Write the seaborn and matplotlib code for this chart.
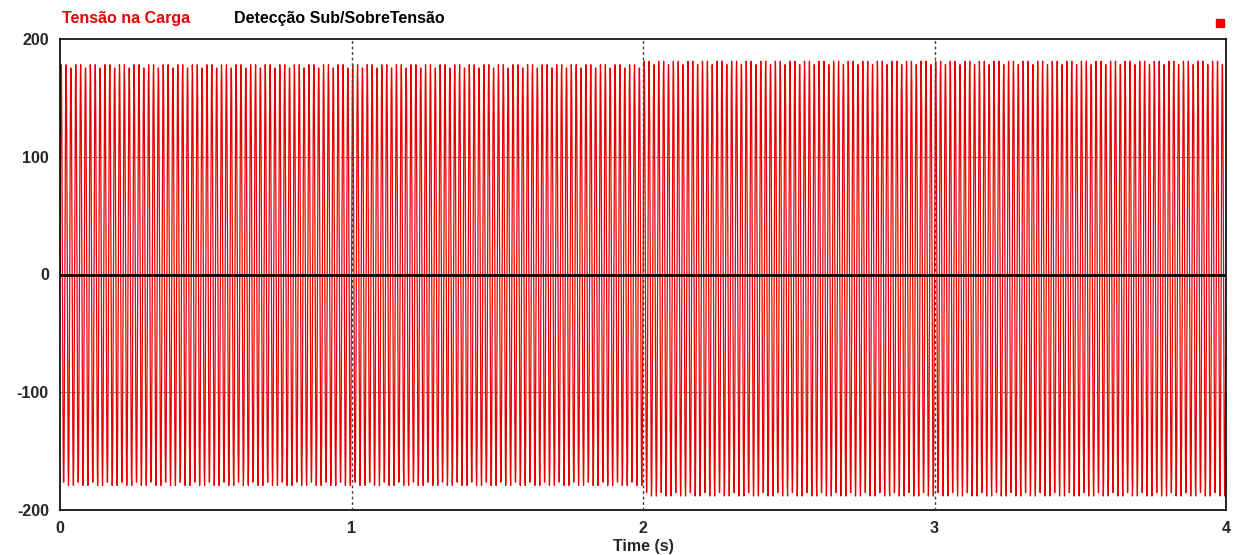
import numpy as np
import pandas as pd
import matplotlib
matplotlib.use("Agg")
import matplotlib.pyplot as plt
import seaborn as sns

# --- data ---
freq_hz = 60.0                      # line frequency
seg_start = [0.0, 2.0]              # segment start times (s)
seg_end = [2.0, 4.0]                # segment end times (s)
seg_amp = [179.0, 185.0]            # peak amplitude per segment (V)
seg_offset = [-0.5, -3.5]           # DC offset per segment (V)
detect_level = [0.0, 0.0]           # detection signal (stays at 0)
samples_per_s = 1000
x_ticks = [0, 1, 2, 3, 4]
y_ticks = [-200, -100, 0, 100, 200]

# build waveform from the segment table
t_parts, v_parts = [], []
for a, b, amp, off in zip(seg_start, seg_end, seg_amp, seg_offset):
    t = np.arange(a, b, 1.0 / samples_per_s)
    t_parts.append(t)
    v_parts.append(off + amp * np.sin(2 * np.pi * freq_hz * t))
t_all = np.concatenate(t_parts)
v_all = np.concatenate(v_parts)
df = pd.DataFrame({"t": t_all, "v": v_all})
df_det = pd.DataFrame({"t": [seg_start[0], seg_end[-1]], "v": detect_level})

sns.set_style("white")
plt.rcParams["font.family"] = ["Liberation Sans", "DejaVu Sans"]

fig = plt.figure(figsize=(12.34, 5.55), dpi=100)
ax = fig.add_axes([60 / 1234, 1 - 510 / 555, (1226 - 60) / 1234, (510 - 39) / 555])

for yv in [-100, 100]:
    ax.axhline(yv, color="#808080", lw=0.8, ls=(0, (2, 2)), zorder=0)
for xv in [1, 2, 3]:
    ax.axvline(xv, color="#404040", lw=1.0, ls=(0, (2, 2)), zorder=3)

sns.lineplot(data=df, x="t", y="v", ax=ax, color="#e80000", lw=0.9,
             estimator=None, sort=False, zorder=2)
sns.lineplot(data=df_det, x="t", y="v", ax=ax, color="black", lw=2.0,
             estimator=None, zorder=4)

ax.set_xlim(0, 4)
ax.set_ylim(-200, 200)
ax.set_xticks(x_ticks)
ax.set_yticks(y_ticks)
ax.set_xticklabels([str(v) for v in x_ticks], fontsize=11.5, fontweight="bold")
ax.set_yticklabels([str(v) for v in y_ticks], fontsize=11.5, fontweight="bold")
ax.tick_params(length=0, pad=8)
ax.set_xlabel("Time (s)", fontsize=11.5, fontweight="bold", labelpad=2)
ax.set_ylabel("")
for s in ax.spines.values():
    s.set_color("black")
    s.set_linewidth(1.2)

fig.text(62 / 1234, 1 - 18 / 555, "Tensão na Carga", color="#ee0000",
         fontsize=11.5, fontweight="bold", va="center", ha="left")
fig.text(234 / 1234, 1 - 18 / 555, "Detecção Sub/SobreTensão", color="black",
         fontsize=11.5, fontweight="bold", va="center", ha="left")
fig.patches.append(plt.Rectangle((1216 / 1234, 1 - 27 / 555), 8 / 1234, 8 / 555,
                                 transform=fig.transFigure, color="#ee0000"))

fig.savefig("out.png", dpi=100)
